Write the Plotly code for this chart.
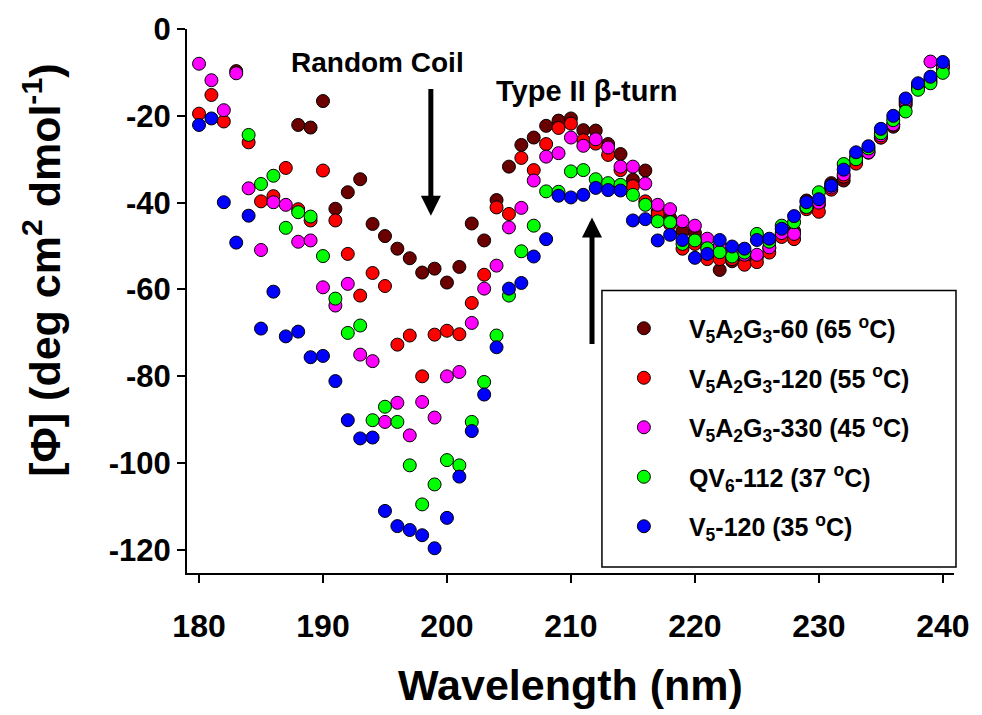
import plotly.graph_objects as go

wavelength = list(range(180, 241))

v5a2g3_60 = [None, None, None, -9.7, None, None, None, None, -22.1, -22.7,
             -16.6, -41.4, -37.6, -34.6, -44.9, -47.7, -50.6, -52.8, -56.1, -55.2,
             -58.4, -54.8, -44.8, -48.7, -39.4, -31.7, -26.7, -25.0, -22.3, -21.1,
             -20.6, -23.3, -23.4, -26.5, -28.8, -34.7, -32.6, -42.0, -43.5, -46.5,
             -47.0, -50.5, -55.5, -53.5, -52.5, -52.5, -50.5, -47.5, -46.5, -39.5,
             -40.5, -35.5, -34.9, -30.5, -28.5, -25.0, -22.5, -17.5, -13.5, -11.5,
             -9.0]

v5a2g3_120 = [-19.5, -15.2, -21.3, None, -26.1, -39.7, -38.5, -32.0, -41.5, -44.1,
              -32.6, -44.1, -51.8, -61.4, -56.2, -59.2, -72.7, -70.6, -80.0, -70.4,
              -69.5, -70.3, -63.1, -56.6, -41.1, -42.6, -29.7, -32.5, -26.5, -22.8,
              -21.8, -25.6, -26.4, -29.0, -32.5, -36.2, -39.7, -42.6, -45.0, -50.6,
              -49.5, -53.0, -53.0, -53.0, -54.3, -53.7, -51.5, -47.9, -48.4, -41.5,
              -42.1, -37.0, -34.0, -31.0, -28.0, -25.0, -22.0, -17.0, -13.0, -12.0,
              -8.5]

v5a2g3_330 = [-8.0, -11.8, -18.7, -10.2, -36.7, -50.9, -39.9, -40.5, -49.0, -48.7,
              -59.5, -63.7, -58.7, -75.0, -76.5, -90.5, -86.1, -93.6, -85.9, -89.5,
              -80.0, -79.0, -67.7, -59.8, -54.5, -45.7, -41.2, -34.9, -29.4, -28.6,
              -25.0, -26.9, -25.4, -27.3, -31.7, -31.7, -35.6, -40.5, -41.5, -44.3,
              -45.3, -48.3, -50.0, -51.5, -52.0, -52.0, -50.3, -47.0, -47.2, -41.0,
              -40.0, -36.5, -33.5, -29.5, -28.4, -24.5, -22.0, -16.5, -13.0, -7.5,
              -8.5]

qv6_112 = [None, None, None, None, -24.4, -35.7, -33.8, -45.8, -42.2, -43.2,
           -52.3, -62.1, -70.0, -68.3, -90.1, -87.0, -90.5, -100.5, -109.5, -104.9,
           -99.3, -100.5, -90.5, -81.3, -70.6, -61.4, -51.2, -45.3, -37.4, -37.5,
           -32.8, -32.5, -34.6, -35.5, -35.9, -38.2, -40.5, -44.3, -44.5, -49.5,
           -48.7, -50.5, -51.4, -52.4, -51.5, -47.2, -49.0, -45.3, -44.5, -41.0,
           -37.6, -36.0, -31.1, -30.0, -27.5, -24.0, -21.0, -19.0, -14.0, -12.5,
           -10.1]

v5_120 = [-22.1, -20.6, -39.9, -49.2, -43.0, -69.0, -60.5, -70.8, -69.7, -75.6,
          -75.3, -81.1, -90.1, -94.3, -94.1, -111.0, -114.5, -115.4, -116.6, -119.6,
          -112.6, -103.1, -92.6, -84.2, -73.3, -59.8, -58.5, -52.4, -48.4, -38.4,
          -38.8, -38.2, -36.6, -37.1, -37.2, -44.1, -43.8, -48.7, -47.4, -48.6,
          -52.7, -51.8, -48.6, -50.1, -50.6, -48.6, -48.3, -46.0, -43.1, -39.9,
          -39.2, -36.1, -32.4, -28.4, -27.0, -23.0, -20.0, -16.0, -12.5, -11.0,
          -7.6]

series_names = [
    "<b>V<sub>5</sub>A<sub>2</sub>G<sub>3</sub>-60 (65 <sup>o</sup>C)</b>",
    "<b>V<sub>5</sub>A<sub>2</sub>G<sub>3</sub>-120 (55 <sup>o</sup>C)</b>",
    "<b>V<sub>5</sub>A<sub>2</sub>G<sub>3</sub>-330 (45 <sup>o</sup>C)</b>",
    "<b>QV<sub>6</sub>-112 (37 <sup>o</sup>C)</b>",
    "<b>V<sub>5</sub>-120 (35 <sup>o</sup>C)</b>",
]
series_values = [v5a2g3_60, v5a2g3_120, v5a2g3_330, qv6_112, v5_120]
series_colors = ["#6B0000", "#FF0000", "#FF00FF", "#00FF00", "#0000FF"]

x_ticks = [180, 190, 200, 210, 220, 230, 240]
y_ticks = [0, -20, -40, -60, -80, -100, -120]

FONT = "Liberation Sans, Arial, Helvetica, sans-serif"

fig = go.Figure()
for i, (name, vals, col) in enumerate(zip(series_names, series_values, series_colors)):
    fig.add_trace(go.Scatter(
        x=wavelength, y=vals, mode="markers", name=name,
        legendgroup=f"g{i}",
        marker=dict(size=13, color=col, line=dict(color="black", width=1)),
    ))

# text annotations
fig.add_annotation(x=194.4, y=-7.7, xref="x", yref="y", text="<b>Random Coil</b>",
                   showarrow=False, font=dict(family=FONT, size=28, color="black"))
fig.add_annotation(x=211.3, y=-14.3, xref="x", yref="y", text="<b>Type II \u03b2-turn</b>",
                   showarrow=False, font=dict(family=FONT, size=29, color="black"))
# arrows
fig.add_annotation(x=198.7, y=-43.0, ax=198.7, ay=-13.5, xref="x", yref="y",
                   axref="x", ayref="y", text="", showarrow=True,
                   arrowhead=2, arrowsize=0.8, arrowwidth=5, arrowcolor="black")
fig.add_annotation(x=211.7, y=-43.4, ax=211.7, ay=-72.9, xref="x", yref="y",
                   axref="x", ayref="y", text="", showarrow=True,
                   arrowhead=2, arrowsize=0.8, arrowwidth=5, arrowcolor="black")

# y-axis title
fig.add_annotation(x=-0.19, y=0.556, xref="paper", yref="paper",
                   text="<b>[\u03a6] (deg cm<sup>2</sup> dmol<sup>-1</sup>)</b>",
                   textangle=-90, showarrow=False, xanchor="center", yanchor="middle",
                   font=dict(family=FONT, size=43, color="black"))

# legend frame
fig.add_shape(type="rect", xref="paper", yref="paper",
              x0=0.541, x1=1.0026, y0=0.011, y1=0.5193,
              line=dict(color="black", width=1.5), fillcolor="rgba(0,0,0,0)", layer="above")

fig.update_layout(
    width=982, height=715,
    margin=dict(l=187, r=26, t=28, b=142),
    paper_bgcolor="white", plot_bgcolor="white",
    font=dict(family=FONT, color="black"),
    showlegend=True,
    legend=dict(
        x=0.537, y=0.4917, xanchor="left", yanchor="top",
        borderwidth=0, bgcolor="rgba(0,0,0,0)",
        font=dict(family=FONT, size=25, color="black"),
        itemwidth=80, tracegroupgap=14,
    ),
    xaxis=dict(
        range=[179.03, 240.9], tickvals=x_ticks, ticktext=[f"<b>{v}</b>" for v in x_ticks],
        showgrid=False, zeroline=False, showline=True, linecolor="black", linewidth=2,
        ticks="outside", ticklen=8, tickwidth=1.5, tickcolor="black",
        tickfont=dict(family=FONT, size=32, color="black"), ticklabelstandoff=16,
        title=dict(text="<b>Wavelength (nm)</b>", font=dict(family=FONT, size=43, color="black"),
                   standoff=26),
    ),
    yaxis=dict(
        range=[-125.3, 0], tickvals=y_ticks, ticktext=[f"<b>{v}</b>" for v in y_ticks],
        showgrid=False, zeroline=False, showline=True, linecolor="black", linewidth=2,
        ticks="outside", ticklen=8, tickwidth=1.5, tickcolor="black",
        tickfont=dict(family=FONT, size=31, color="black"),
    ),
)

fig.write_html("out.html")
